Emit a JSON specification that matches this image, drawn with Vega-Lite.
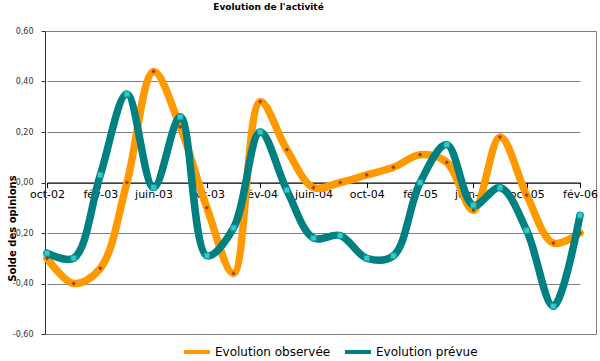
{
  "$schema": "https://vega.github.io/schema/vega-lite/v6.json",
  "autosize": {"type": "none"},
  "padding": {"left": 45, "top": 31, "right": 4, "bottom": 27},
  "width": 551,
  "height": 303,
  "title": {"text": "Evolution de l'activité", "font": "DejaVu Sans", "fontSize": 9, "fontWeight": "bold", "color": "#000000", "anchor": "middle", "frame": "group", "dx": -52, "offset": 8, "baseline": "alphabetic"},
  "config": {
    "view": {"stroke": "#808080", "strokeWidth": 1},
    "font": "DejaVu Sans"
  },
  "data": {"values": [
    {"mois": "oct-02", "serie": "Evolution observée", "valeur": -0.30},
    {"mois": "déc-02", "serie": "Evolution observée", "valeur": -0.40},
    {"mois": "fév-03", "serie": "Evolution observée", "valeur": -0.34},
    {"mois": "avr-03", "serie": "Evolution observée", "valeur": 0.00},
    {"mois": "juin-03", "serie": "Evolution observée", "valeur": 0.44},
    {"mois": "août-03", "serie": "Evolution observée", "valeur": 0.22},
    {"mois": "oct-03", "serie": "Evolution observée", "valeur": -0.10},
    {"mois": "déc-03", "serie": "Evolution observée", "valeur": -0.36},
    {"mois": "fév-04", "serie": "Evolution observée", "valeur": 0.32},
    {"mois": "avr-04", "serie": "Evolution observée", "valeur": 0.13},
    {"mois": "juin-04", "serie": "Evolution observée", "valeur": -0.02},
    {"mois": "août-04", "serie": "Evolution observée", "valeur": 0.00},
    {"mois": "oct-04", "serie": "Evolution observée", "valeur": 0.03},
    {"mois": "déc-04", "serie": "Evolution observée", "valeur": 0.06},
    {"mois": "fév-05", "serie": "Evolution observée", "valeur": 0.11},
    {"mois": "avr-05", "serie": "Evolution observée", "valeur": 0.08},
    {"mois": "juin-05", "serie": "Evolution observée", "valeur": -0.11},
    {"mois": "août-05", "serie": "Evolution observée", "valeur": 0.18},
    {"mois": "oct-05", "serie": "Evolution observée", "valeur": -0.05},
    {"mois": "déc-05", "serie": "Evolution observée", "valeur": -0.24},
    {"mois": "fév-06", "serie": "Evolution observée", "valeur": -0.20},
    {"mois": "oct-02", "serie": "Evolution prévue", "valeur": -0.28},
    {"mois": "déc-02", "serie": "Evolution prévue", "valeur": -0.30},
    {"mois": "fév-03", "serie": "Evolution prévue", "valeur": 0.03},
    {"mois": "avr-03", "serie": "Evolution prévue", "valeur": 0.35},
    {"mois": "juin-03", "serie": "Evolution prévue", "valeur": -0.02},
    {"mois": "août-03", "serie": "Evolution prévue", "valeur": 0.26},
    {"mois": "oct-03", "serie": "Evolution prévue", "valeur": -0.29},
    {"mois": "déc-03", "serie": "Evolution prévue", "valeur": -0.18},
    {"mois": "fév-04", "serie": "Evolution prévue", "valeur": 0.20},
    {"mois": "avr-04", "serie": "Evolution prévue", "valeur": -0.03},
    {"mois": "juin-04", "serie": "Evolution prévue", "valeur": -0.22},
    {"mois": "août-04", "serie": "Evolution prévue", "valeur": -0.21},
    {"mois": "oct-04", "serie": "Evolution prévue", "valeur": -0.30},
    {"mois": "déc-04", "serie": "Evolution prévue", "valeur": -0.29},
    {"mois": "fév-05", "serie": "Evolution prévue", "valeur": 0.00},
    {"mois": "avr-05", "serie": "Evolution prévue", "valeur": 0.15},
    {"mois": "juin-05", "serie": "Evolution prévue", "valeur": -0.09},
    {"mois": "août-05", "serie": "Evolution prévue", "valeur": -0.02},
    {"mois": "oct-05", "serie": "Evolution prévue", "valeur": -0.19},
    {"mois": "déc-05", "serie": "Evolution prévue", "valeur": -0.49},
    {"mois": "fév-06", "serie": "Evolution prévue", "valeur": -0.13}
  ]},
  "encoding": {
    "x": {
      "field": "mois", "type": "ordinal",
      "scale": {"type": "point", "padding": 0, "domain": ["oct-02","déc-02","fév-03","avr-03","juin-03","août-03","oct-03","déc-03","fév-04","avr-04","juin-04","août-04","oct-04","déc-04","fév-05","avr-05","juin-05","août-05","oct-05","déc-05","fév-06"], "range": [2, 535]},
      "axis": {"title": null, "values": ["oct-02","fév-03","juin-03","oct-03","fév-04","juin-04","oct-04","fév-05","juin-05","oct-05","fév-06"], "offset": -151.5, "labelAngle": 0, "labelFontSize": 11, "labelColor": "#000000", "labelPadding": 1, "tickSize": 5, "tickColor": "#000000", "domainColor": "#000000", "grid": false, "labelFont": "DejaVu Sans"}
    },
    "y": {
      "field": "valeur", "type": "quantitative",
      "scale": {"domain": [-0.6, 0.6], "nice": false, "zero": false},
      "axis": {"title": "Solde des opinions", "titleFontSize": 10, "titleFontWeight": "bold", "titleColor": "#000000", "titleX": -33, "titleY": 197, "titleBaseline": "middle", "titleAngle": 270, "values": [-0.6, -0.4, -0.2, 0, 0.2, 0.4, 0.6], "labelExpr": "replace(replace(format(datum.value, '.2f'), '.', ','), '−', '-')", "labelFontSize": 8, "labelColor": "#333333", "labelPadding": 8, "tickSize": 4, "tickColor": "#333333", "domainColor": "#333333", "gridColor": "#808080", "grid": true}
    }
  },
  "layer": [
    {
      "transform": [{"filter": "datum.serie === 'Evolution observée'"}],
      "mark": {"type": "line", "interpolate": "catmull-rom", "strokeWidth": 7.5, "strokeCap": "round"},
      "encoding": {"color": {"field": "serie", "type": "nominal", "scale": {"domain": ["Evolution observée", "Evolution prévue"], "range": ["#FF9900", "#008080"]}, "legend": {"title": null, "orient": "none", "legendX": 137, "legendY": 306, "direction": "horizontal", "symbolType": "stroke", "symbolStrokeWidth": 4, "symbolSize": 676, "labelFontSize": 12, "labelColor": "#000000", "labelOffset": 3, "columnPadding": 6, "labelFont": "DejaVu Sans"}}}
    },
    {
      "transform": [{"filter": "datum.serie === 'Evolution observée'"}],
      "mark": {"type": "point", "shape": "diamond", "filled": true, "size": 18, "color": "#9C3D0A", "opacity": 1}
    },
    {
      "transform": [{"filter": "datum.serie === 'Evolution prévue'"}],
      "mark": {"type": "line", "interpolate": "catmull-rom", "strokeWidth": 7.5, "strokeCap": "round"},
      "encoding": {"color": {"field": "serie", "type": "nominal"}}
    },
    {
      "transform": [{"filter": "datum.serie === 'Evolution prévue'"}],
      "mark": {"type": "point", "shape": "square", "filled": true, "size": 30, "fill": "#33CCCC", "stroke": "#1E9E9E", "strokeWidth": 1, "opacity": 1}
    }
  ]
}
